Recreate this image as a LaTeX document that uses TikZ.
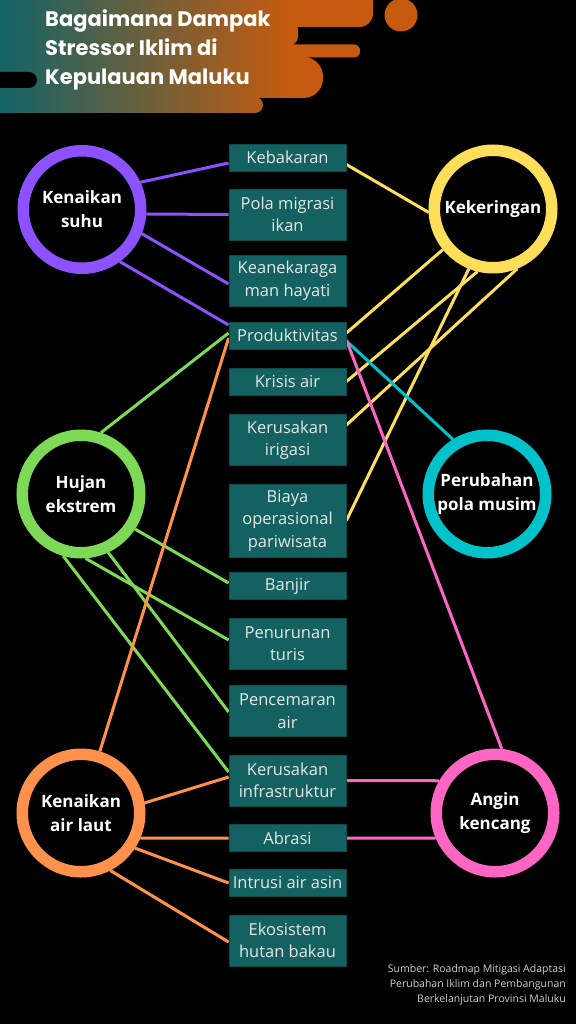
\documentclass[tikz,border=0pt]{standalone}
\usepackage{fontspec}
\setmainfont{Open Sans}
\newfontfamily\titlefont{Poppins}
\definecolor{boxfill}{HTML}{136160}
\definecolor{boxline}{HTML}{0D4B4A}
\definecolor{boxtext}{HTML}{E8E8E8}
\definecolor{cpurple}{HTML}{8C52FF}
\definecolor{cyellow}{HTML}{FFDE59}
\definecolor{cgreen}{HTML}{7ED957}
\definecolor{ccyan}{HTML}{00C2CB}
\definecolor{corange}{HTML}{FF914D}
\definecolor{cpink}{HTML}{FF66C4}
\definecolor{bteal}{HTML}{0F6469}
\definecolor{borange}{HTML}{C65B0F}
\definecolor{srcgray}{HTML}{D0D0D0}
\pgfdeclarehorizontalshading{banner}{100bp}{color(0bp)=(bteal); color(28bp)=(bteal); color(65bp)=(borange); color(100bp)=(borange)}
\pgfdeclarelayer{bg}
\pgfsetlayers{bg,main}
\begin{document}
\begin{tikzpicture}[x=1pt,y=-1pt,
  stepbox/.style={draw=boxline, line width=0.8pt, fill=boxfill, text=boxtext, minimum width=117pt, inner sep=0pt, align=center, font=\fontsize{16.5}{22.5}\selectfont},
  hub/.style={circle, draw=#1, line width=11.5pt, fill=black, minimum size=117.5pt, inner sep=0pt, align=center, text=white, font=\bfseries\fontsize{17}{24}\selectfont},
  link/.style={draw=#1, line width=3pt},
  titletext/.style={anchor=base west, inner sep=0pt, text=white, font=\titlefont\bfseries\fontsize{21}{25}\selectfont}
]
\useasboundingbox (0,0) rectangle (576,1024);

% banner
\shade[shading=banner]
  (-30,-30) [rounded corners=13.5pt] rectangle (373,27)
  (-30,20) [rounded corners=9pt] rectangle (298,45.5)
  (-30,44.5) [rounded corners=6pt] rectangle (360,57.5)
  (-30,57) [rounded corners=19.5pt] rectangle (323,98)
  (-30,97) [rounded corners=8pt] rectangle (263,113);
\fill[black, rounded corners=8pt] (-30,72) rectangle (37,88);
\fill[borange] (401,15) circle (16.5);

\node[titletext] (t1) at (45,27) {Bagaimana Dampak};
\node[titletext] (t2) at (45,56) {Stressor Iklim di};
\node[titletext] (t3) at (45,85) {Kepulauan Maluku};

% hubs
\node[hub=cpurple] (suhu) at (82,209.5) {Kenaikan\\suhu};
\node[hub=cyellow] (kering) at (493,209) {Kekeringan};
\node[hub=cgreen] (hujan) at (81,494) {Hujan\\ekstrem};
\node[hub=ccyan] (musim) at (487,494) {Perubahan\\pola musim};
\node[hub=corange] (laut) at (81,813) {Kenaikan\\air laut};
\node[hub=cpink] (angin) at (495,813) {Angin\\kencang};

% impact boxes
\node[stepbox, minimum height=27pt] (keb) at (287.5,157.5) {Kebakaran};
\node[stepbox, minimum height=51pt] (pola) at (287.5,214.5) {Pola migrasi\\ikan};
\node[stepbox, minimum height=51pt] (keanek) at (287.5,280.5) {Keanekaraga\\man hayati};
\node[stepbox, minimum height=27pt] (prod) at (287.5,335.5) {Produktivitas};
\node[stepbox, minimum height=27pt] (krisis) at (287.5,381.5) {Krisis air};
\node[stepbox, minimum height=51pt] (irigasi) at (287.5,440) {Kerusakan\\irigasi};
\node[stepbox, minimum height=73pt] (biaya) at (287.5,520.5) {Biaya\\operasional\\pariwisata};
\node[stepbox, minimum height=27pt] (banjir) at (287.5,586) {Banjir};
\node[stepbox, minimum height=51pt] (turis) at (287.5,643.5) {Penurunan\\turis};
\node[stepbox, minimum height=51pt] (cemar) at (287.5,711) {Pencemaran\\air};
\node[stepbox, minimum height=51pt] (infra) at (287.5,780.5) {Kerusakan\\infrastruktur};
\node[stepbox, minimum height=27pt] (abrasi) at (287.5,838) {Abrasi};
\node[stepbox, minimum height=27pt] (intrusi) at (287.5,883) {Intrusi air asin};
\node[stepbox, minimum height=51pt] (bakau) at (287.5,940.5) {Ekosistem\\hutan bakau};

\node[anchor=north east, align=right, inner sep=0pt, text=srcgray, font=\fontsize{10.5}{15}\selectfont] (src) at (566,964) {Sumber: Roadmap Mitigasi Adaptasi\\Perubahan Iklim dan Pembangunan\\Berkelanjutan Provinsi Maluku};

\begin{pgfonlayer}{bg}
\fill[black] (0,0) rectangle (576,1024);
% Kenaikan suhu
\draw[link=cpurple] (suhu.25) -- ([yshift=-5.5pt]keb.west);
\draw[link=cpurple] (suhu.-4) -- (pola.west);
\draw[link=cpurple] (suhu.-22) -- ([yshift=-3.5pt]keanek.west);
\draw[link=cpurple] (suhu.-54) -- ([yshift=10.5pt]prod.west);
% Kekeringan
\draw[link=cyellow] ([yshift=-7pt]keb.east) -- (kering.183);
\draw[link=cyellow] ([yshift=2.5pt]prod.east) -- (kering.219);
\draw[link=cyellow] (krisis.east) -- (kering.256);
\draw[link=cyellow] ([yshift=15pt]irigasi.east) -- (kering.292);
\draw[link=cyellow] (biaya.east) -- (kering.248);
% Perubahan pola musim
\draw[link=ccyan] ([yshift=-5.5pt]prod.east) -- (musim.122);
% Angin kencang
\draw[link=cpink] ([yshift=-4.5pt]prod.east) -- (angin.84);
\draw[link=cpink] (infra.east) -- (angin.150);
\draw[link=cpink] (abrasi.east) -- (angin.203);
% Hujan ekstrem
\draw[link=cgreen] (hujan.72) -- ([yshift=2.5pt]prod.west);
\draw[link=cgreen] (hujan.-33) -- ([yshift=3pt]banjir.west);
\draw[link=cgreen] (hujan.-86) -- ([yshift=3.5pt]turis.west);
\draw[link=cgreen] (hujan.-65) -- ([yshift=-1pt]cemar.west);
\draw[link=cgreen] (hujan.-106) -- ([yshift=8.5pt]infra.west);
% Kenaikan air laut
\draw[link=corange] (laut.73) -- ([yshift=-2.5pt]prod.west);
\draw[link=corange] (laut.9) -- ([yshift=3.5pt]infra.west);
\draw[link=corange] (laut.-23) -- (abrasi.west);
\draw[link=corange] (laut.-33) -- (intrusi.west);
\draw[link=corange] (laut.-63) -- ([yshift=-1.5pt]bakau.west);
\end{pgfonlayer}
\end{tikzpicture}
\end{document}
